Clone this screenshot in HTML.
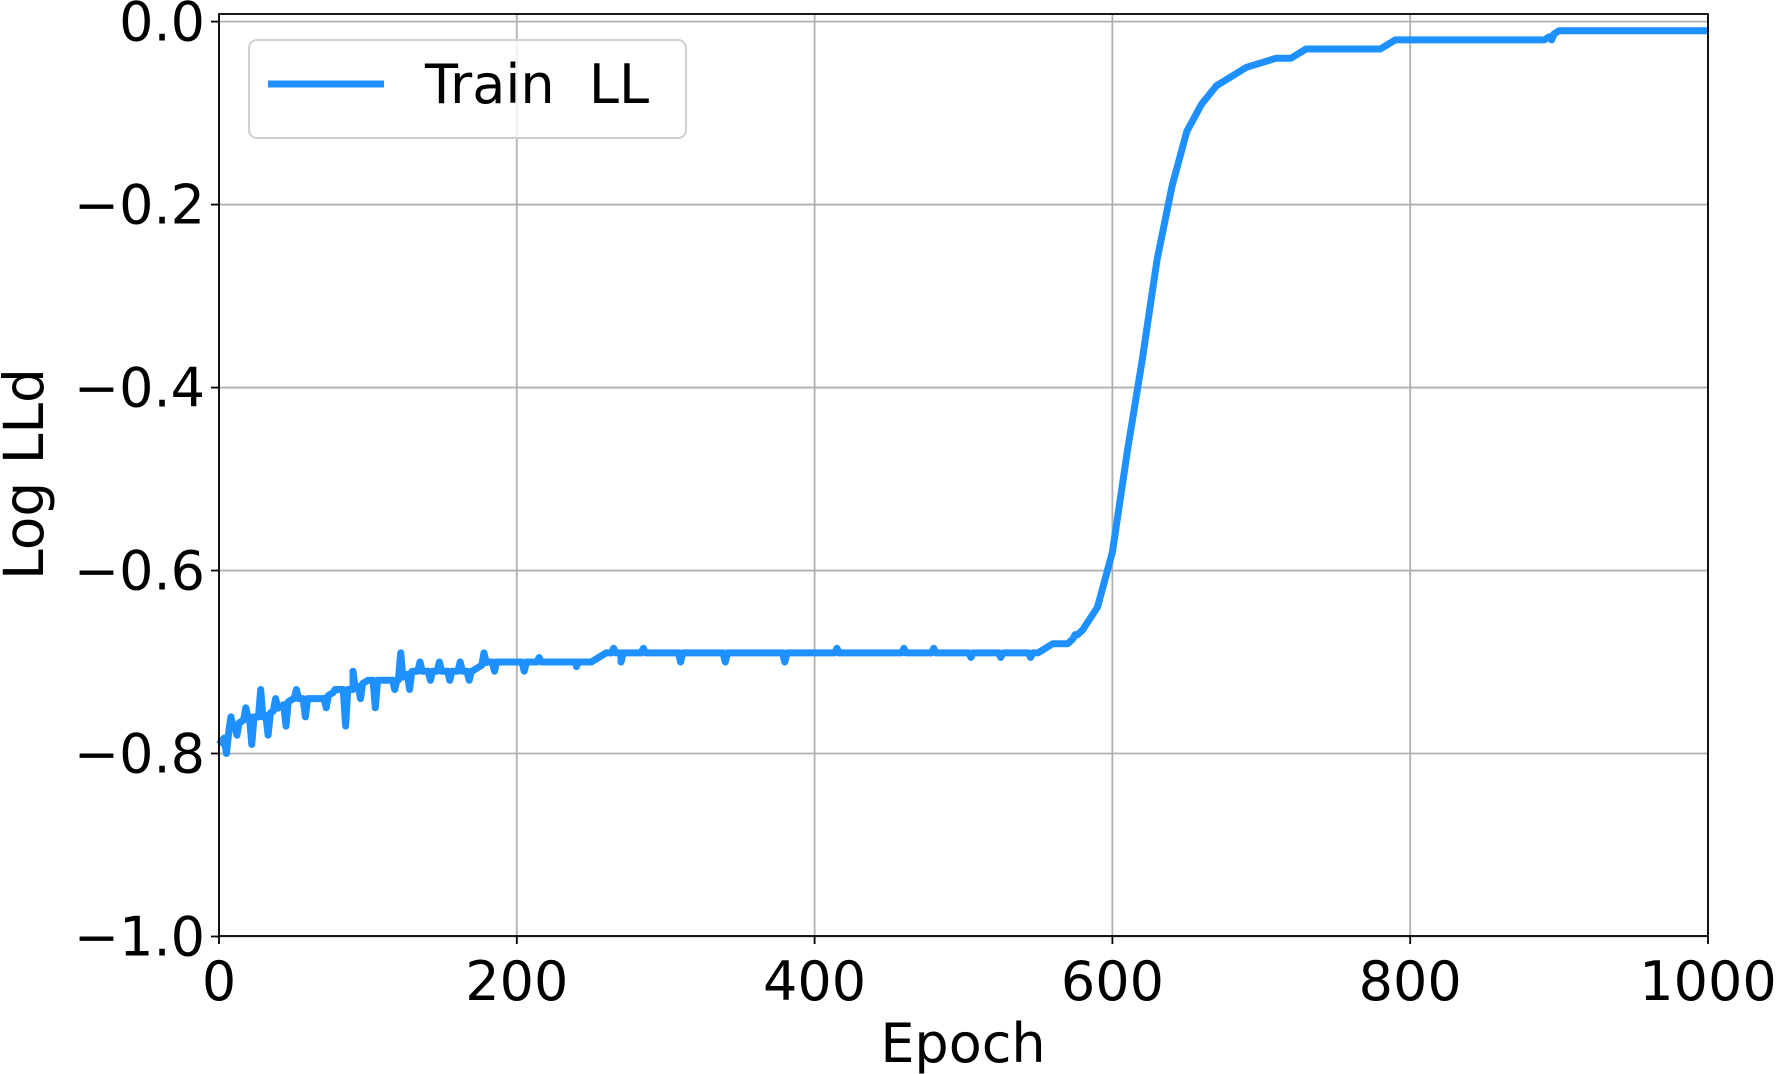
<!DOCTYPE html>
<html><head><meta charset="utf-8">
<style>
html,body{margin:0;padding:0;background:#fff;}
svg{display:block;font-family:"DejaVu Sans","Liberation Sans",sans-serif;}
</style></head>
<body>
<svg id="chart" width="1777" height="1074" viewBox="0 0 1777 1074" xmlns="http://www.w3.org/2000/svg">
<g id="grid"></g>
<g id="series"></g>
<g id="axes"></g>
<text x="963" y="1062" font-size="54" text-anchor="middle">Epoch</text>
<text x="0" y="0" font-size="55" text-anchor="middle" transform="translate(43,474) rotate(-90)">Log LLd</text>
<g>
<rect x="249" y="40" width="437" height="98" rx="8" fill="#fff" fill-opacity="0.8" stroke="#d0d0d0" stroke-width="2"/>
<line x1="268" y1="84" x2="384" y2="84" stroke="#1e90ff" stroke-width="7"/>
<text x="425" y="103" font-size="54" xml:space="preserve">Train  LL</text>
</g>
</svg>
<script>
const xTicks=[0,200,400,600,800,1000];
const yTicks=[0,-0.2,-0.4,-0.6,-0.8,-1.0];
const yTickLabels=["0.0","\u22120.2","\u22120.4","\u22120.6","\u22120.8","\u22121.0"];
const baseEpochs=[0,10,20,30,40,50,60,70,80,90,100,110,120,130,140,150,160,170,180,190,200,210,220,230,240,250,260,270,280,290,300,350,400,450,500,550,560,570,580,590,600,610,620,630,640,650,660,670,680,690,700,710,720,730,780,790,890,900,1000];
const baseValues=[-0.79,-0.77,-0.76,-0.76,-0.75,-0.74,-0.74,-0.74,-0.73,-0.73,-0.72,-0.72,-0.72,-0.71,-0.71,-0.71,-0.71,-0.71,-0.70,-0.70,-0.70,-0.70,-0.70,-0.70,-0.70,-0.70,-0.69,-0.69,-0.69,-0.69,-0.69,-0.69,-0.69,-0.69,-0.69,-0.69,-0.68,-0.68,-0.665,-0.64,-0.58,-0.47,-0.37,-0.26,-0.18,-0.12,-0.09,-0.07,-0.06,-0.05,-0.045,-0.04,-0.04,-0.03,-0.03,-0.02,-0.02,-0.01,-0.01];
const spikeEpochs=[5,8,12,18,22,28,33,38,45,52,58,65,72,78,85,90,95,105,112,118,122,128,135,142,148,155,162,168,178,185,205,215,240,265,270,285,310,340,380,415,460,480,505,525,545,575,760,775,880,895];
const spikeValues=[-0.80,-0.76,-0.78,-0.75,-0.79,-0.73,-0.78,-0.74,-0.77,-0.73,-0.76,-0.74,-0.75,-0.73,-0.77,-0.71,-0.74,-0.75,-0.72,-0.73,-0.69,-0.73,-0.70,-0.72,-0.70,-0.72,-0.70,-0.72,-0.69,-0.71,-0.71,-0.695,-0.705,-0.685,-0.70,-0.685,-0.70,-0.70,-0.70,-0.685,-0.685,-0.685,-0.695,-0.695,-0.695,-0.67,-0.03,-0.03,-0.02,-0.02];

const L=219,R=1708,T=14,B=936;
const X=v=>L+(v-0)/(1000-0)*(R-L);
const Y=v=>21.6+(0-v)/(1)*(936.5-21.6);
const NS="http://www.w3.org/2000/svg";
function mk(tag,attrs,parent){const e=document.createElementNS(NS,tag);for(const k in attrs)e.setAttribute(k,attrs[k]);parent.appendChild(e);return e;}
const grid=document.getElementById('grid'),axes=document.getElementById('axes'),ser=document.getElementById('series');
xTicks.forEach(t=>{
  const g=mk('line',{x1:X(t),x2:X(t),y1:T,y2:B,stroke:'#b0b0b0','stroke-width':1.8},grid);
  
  
  const tk=mk('line',{x1:X(t),x2:X(t),y1:B,y2:B+8,stroke:'#000','stroke-width':1.8},axes);
  
  
  const tx=mk('text',{x:X(t),y:B+64,'font-size':54,'text-anchor':'middle'},axes);
  tx.textContent=String(t);
  
  
});
yTicks.forEach((t,i)=>{
  const g=mk('line',{x1:L,x2:R,y1:Y(t),y2:Y(t),stroke:'#b0b0b0','stroke-width':1.8},grid);
  
  
  const tk=mk('line',{x1:L-8,x2:L,y1:Y(t),y2:Y(t),stroke:'#000','stroke-width':1.8},axes);
  
  
  const tx=mk('text',{x:L-14,y:Y(t)+19,'font-size':54,'text-anchor':'end'},axes);
  tx.textContent=yTickLabels[i];
  
  
});
const frame=mk('rect',{x:L,y:T,width:R-L,height:B-T,fill:'none',stroke:'#000','stroke-width':1.8},axes);


function baseAt(e){for(let i=0;i<baseEpochs.length-1;i++){if(e>=baseEpochs[i]&&e<=baseEpochs[i+1]){const f=(e-baseEpochs[i])/(baseEpochs[i+1]-baseEpochs[i]);return baseValues[i]+f*(baseValues[i+1]-baseValues[i]);}}return baseValues[baseValues.length-1];}
const pts=baseEpochs.map((e,i)=>[e,baseValues[i]]);
spikeEpochs.forEach((e,i)=>{pts.push([e-1.5,baseAt(e-1.5)]);pts.push([e,spikeValues[i]]);pts.push([e+1.5,baseAt(e+1.5)]);});
pts.sort((a,b)=>a[0]-b[0]);
const line=mk('polyline',{points:pts.map(p=>X(p[0]).toFixed(1)+','+Y(p[1]).toFixed(1)).join(' '),fill:'none',stroke:'#1e90ff','stroke-width':7,'stroke-linejoin':'round'},ser);


</script>
</body></html>
